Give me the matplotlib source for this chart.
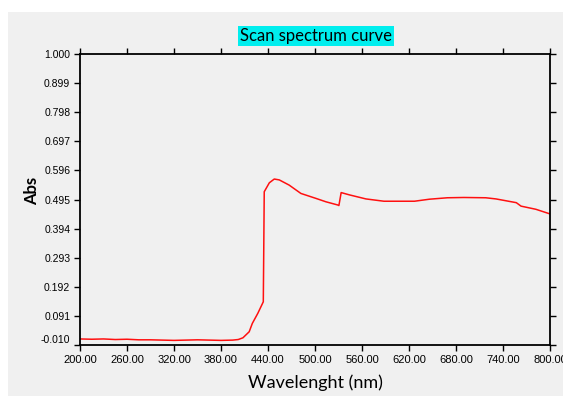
import numpy as np
import matplotlib.pyplot as plt
from matplotlib.patches import Rectangle
from matplotlib.transforms import ScaledTranslation

# Spectrum (wavelength in nm, absorbance)
wavelength = [200, 215, 230, 245, 260, 275, 290, 305, 320, 335, 350, 365,
              380, 395, 402, 408, 416, 420, 427, 434, 434.6, 435.2,
              441.7, 448, 454.4, 467, 482, 501, 514, 529, 530.5, 533.4,
              544, 565, 588, 608, 627, 646, 669, 690, 718, 731,
              757, 763, 782, 800]
absorbance = [0.011, 0.010, 0.011, 0.009, 0.010, 0.008, 0.008, 0.007, 0.006,
              0.007, 0.008, 0.007, 0.006, 0.007, 0.009, 0.015, 0.036, 0.065,
              0.100, 0.140, 0.329, 0.522,
              0.553, 0.566, 0.563, 0.545, 0.516, 0.499, 0.487, 0.476, 0.474, 0.519,
              0.511, 0.497, 0.489, 0.489, 0.489, 0.496, 0.501, 0.502, 0.501, 0.497,
              0.484, 0.472, 0.461, 0.445]

x_ticks = [200, 260, 320, 380, 440, 500, 560, 620, 680, 740, 800]
y_ticks = [-0.010, 0.091, 0.192, 0.293, 0.394, 0.495, 0.596, 0.697, 0.798, 0.899, 1.000]

bg = '#f0f0f0'
fig = plt.figure(figsize=(5.63, 3.96), dpi=100, facecolor='white')
fig.patches.append(Rectangle((8 / 563, 0), 1, (396 - 12) / 396,
                             transform=fig.transFigure, facecolor=bg,
                             edgecolor='none', zorder=-10))

ax = fig.add_axes([80 / 563, 1 - 345 / 396, 470 / 563, 291 / 396])
ax.set_facecolor(bg)
ax.plot(wavelength, absorbance, color='#ff1010', lw=1.1)

ax.set_xlim(200, 800)
ax.set_ylim(-0.010, 1.000)
ax.set_xticks(x_ticks)
ax.set_yticks(y_ticks)
ax.set_xticklabels([f'{v:.2f}' for v in x_ticks], fontfamily='Liberation Sans', fontsize=8)
ax.set_yticklabels([f'{v:.3f}' for v in y_ticks], fontfamily='Liberation Sans', fontsize=7.5)
ax.tick_params(direction='out', length=4, width=1, top=True, right=True, pad=3)

# the bottom label sits a little above the axis line in the reference
lbl = ax.get_yticklabels()[0]
lbl.set_transform(lbl.get_transform() + ScaledTranslation(0, 6 / 100, fig.dpi_scale_trans))

for s in ax.spines.values():
    s.set_linewidth(1.3)
    s.set_color('black')

ax.set_xlabel('Wavelenght (nm)', fontfamily='Lato', fontsize=13, labelpad=7)
ax.set_ylabel('Abs', fontfamily='Lato', fontsize=12, fontweight='bold')
ax.yaxis.set_label_coords(-0.085, 0.53)

fig.text(316 / 563, 1 - 36 / 396, 'Scan spectrum curve', fontfamily='Lato',
         fontsize=12, ha='center', va='center',
         bbox=dict(facecolor='#00eeee', edgecolor='none', pad=1.5))

fig.savefig('out.png', dpi=100, facecolor='white')
